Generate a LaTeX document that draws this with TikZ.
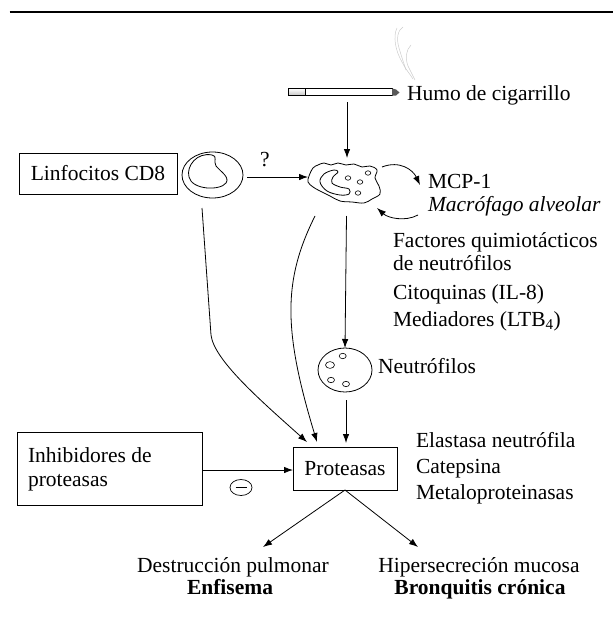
\documentclass[tikz,border=0pt]{standalone}
\usepackage{fontspec}
\setmainfont{Liberation Serif}
\usetikzlibrary{arrows.meta,shapes.geometric}
\begin{document}
\begin{tikzpicture}[x=1pt,y=-1pt,
  every node/.style={inner sep=0pt, outer sep=0pt, font=\fontsize{21.5}{23}\selectfont},
  lbl/.style={anchor=base west},
  clbl/.style={anchor=base},
  box/.style={draw, line width=0.8pt},
  arr/.style={-{Latex[length=9pt,width=6.5pt]}, line width=0.8pt},
  cell/.style={line width=0.8pt},
  smoke/.style={gray!40, line width=0.5pt}]
\useasboundingbox (0,0) rectangle (613,626);

% rule across the top
\draw[line width=1.6pt] (9.5,12.3) -- (613,12.3);

% cigarette with smoke
\shade[top color=white, bottom color=gray!45] (288,88.5) rectangle (305,95.5);
\draw[line width=0.7pt] (288,88.5) rectangle (392,95.5);
\draw[line width=0.7pt] (305,88.5) -- (305,95.5);
\fill[gray!70!black] (392,88.5) -- (396,89.5) -- (399.5,92.5) -- (396,95.5) -- (392,95.5) -- cycle;
\draw[smoke] (397,28) .. controls (393,36) and (395,50) .. (402,62) .. controls (406,70) and (410,74) .. (413,79);
\draw[smoke] (403,27) .. controls (398,30) and (396,38) .. (399,48) .. controls (402,58) and (404,64) .. (406,70);
\draw[smoke] (411,45) .. controls (406,50) and (405,58) .. (408,66) .. controls (411,72) and (413,76) .. (415,80);
\coordinate (cig) at (347,102);
\node[lbl] (humo) at (407,100) {Humo de cigarrillo};

% CD8 lymphocytes
\node[box, minimum width=158pt, minimum height=41pt] (cd8) at (98,173.5) {Linfocitos CD8};
\node[draw, cell, ellipse, minimum width=61pt, minimum height=46pt] (lym) at (212.5,175) {};
\draw[cell] (212,155) .. controls (197,152) and (186,166) .. (189,177)
  .. controls (192,190) and (220,191) .. (226,183)
  .. controls (230,177) and (221,172) .. (216,166)
  .. controls (213,161) and (218,156) .. (212,155) -- cycle;
\node (q) at (265,160) {?};

% alveolar macrophage
\node[minimum width=72pt, minimum height=41pt] (mac) at (344,182.5) {};
\draw[cell] plot[smooth cycle, tension=0.6] coordinates {
  (309,176) (313,168) (318,165) (324,163) (331,165) (338,163) (346,165)
  (354,164) (362,167) (370,166) (377,170) (375,178) (379,186) (380,194)
  (372,199) (364,203) (352,202) (340,201) (330,196) (320,191) (313,187) (308,182)};
\draw[cell] plot[smooth cycle, tension=0.6] coordinates {
  (334,170) (324,174) (320,182) (327,191) (340,195) (349,194) (349,189)
  (340,187) (332,183) (333,177) (338,172)};
\foreach \p in {(348,178),(360,182),(368,173),(358,193)}
  \draw[line width=0.6pt] \p ellipse (2.8pt and 2.2pt);
\node[lbl] (mcp) at (428,188) {MCP-1};
\node[lbl] (malv) at (428,211) {\itshape Macrófago alveolar};
\node[lbl] (fq1) at (393,247) {Factores quimiotácticos};
\node[lbl] (fq2) at (393,270) {de neutrófilos};
\node[lbl] (cito) at (393,299) {Citoquinas (IL-8)};
\node[lbl] (med) at (393,326) {Mediadores (LTB\textsubscript{4})};

% neutrophils
\node[draw, cell, ellipse, minimum width=54pt, minimum height=44pt] (neu) at (345,370) {};
\draw[line width=0.6pt] (330,365) ellipse (4.5pt and 3.4pt);
\draw[line width=0.6pt] (342.7,356) ellipse (3.5pt and 2.7pt);
\draw[line width=0.6pt] (331,380) ellipse (3.5pt and 2.7pt);
\draw[line width=0.6pt] (346,384) ellipse (3.5pt and 2.7pt);
\node[lbl] (neulbl) at (378,373) {Neutrófilos};

% proteases and inhibitors
\node[box, minimum width=104pt, minimum height=43pt] (prot) at (345,468.5) {Proteasas};
\node[lbl] (el) at (416,447) {Elastasa neutrófila};
\node[lbl] (cat) at (416,473) {Catepsina};
\node[lbl] (met) at (416,499) {Metaloproteinasas};
\node[box, minimum width=185pt, minimum height=73pt] (inh) at (109.5,468.5) {};
\node[lbl] (inh1) at (28,462) {Inhibidores de};
\node[lbl] (inh2) at (28,486) {proteasas};
\node[draw, line width=0.7pt, ellipse, minimum width=22pt, minimum height=16pt] (minus) at (241,487.5) {};
\draw[line width=0.7pt] (235.5,487.5) -- (246.5,487.5);

% outcomes
\node[clbl] (des) at (233,572) {Destrucción pulmonar};
\node[clbl] (enf) at (230,594) {\bfseries Enfisema};
\node[clbl] (hip) at (479,572) {Hipersecreción mucosa};
\node[clbl] (bro) at (480,594) {\bfseries Bronquitis crónica};
\coordinate (dl) at (263,547);
\coordinate (dr) at (418,547);

% connectors
\draw[arr] (cig) -- (347,158);
\draw[arr] (lym.east) ++(4,2) -- (mac.west |- 0,177);
\draw[arr] (346.5,216) -- (neu.north);
\draw[arr] (neu.south) ++(1,8) -- ([xshift=1pt,yshift=4pt]prot.north);
\draw[arr] (202,208) -- (211,335) .. controls (214,360) and (260,400) .. (307,442);
\draw[arr] (315,216) .. controls (283,280) and (283,330) .. (317,442);
\draw[arr] (inh.east |- 0,470) -- (prot.west |- 0,470);
\draw[arr] (prot.south) -- (dl);
\draw[arr] (prot.south) -- (dr);
\draw[arr] (382,167) .. controls (400,160) and (413,170) .. (420,185);
\draw[arr] (418,215) .. controls (405,222) and (388,218) .. (377,208);
\end{tikzpicture}
\end{document}
